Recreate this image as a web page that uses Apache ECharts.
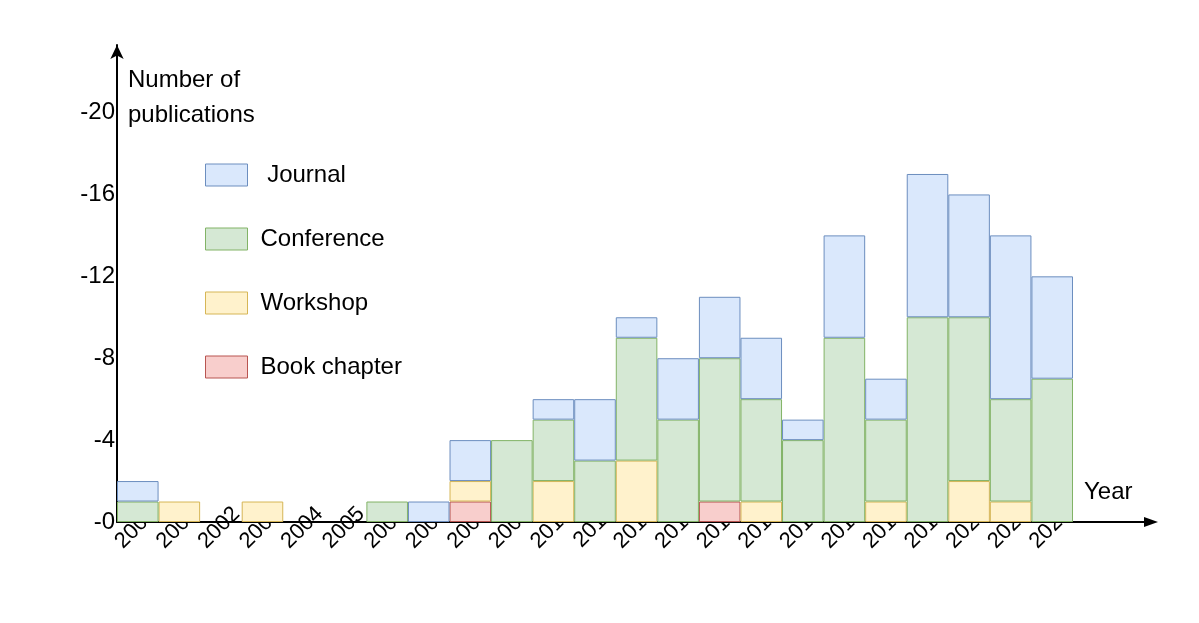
<!DOCTYPE html><html><head><meta charset="utf-8"><script src="https://cdn.jsdelivr.net/npm/echarts@6/dist/echarts.min.js"></script></head><body style="margin:0;background:#fff"><div id="c" style="width:1199px;height:623px"></div><script>
const years=['2000','2001','2002','2003','2004','2005','2006','2007','2008','2009','2010','2011','2012','2013','2014','2015','2016','2017','2018','2019','2020','2021','2022'];
const book=[0,0,0,0,0,0,0,0,1,0,0,0,0,0,1,0,0,0,0,0,0,0,0];
const workshop=[0,1,0,1,0,0,0,0,1,0,2,0,3,0,0,1,0,0,1,0,2,1,0];
const conference=[1,0,0,0,0,0,1,0,0,4,3,3,6,5,7,5,4,9,4,10,8,5,7];
const journal=[1,0,0,0,0,0,0,1,2,0,1,3,1,3,3,3,1,5,2,7,6,8,5];
const yTicks=[0,4,8,12,16,20];
const F='Liberation Sans, Arial, sans-serif';
function s(name,data,fill,stroke){return {name,type:'bar',stack:'a',data:data.map(v=>v===0?'-':v),barWidth:'100%',barCategoryGap:0,itemStyle:{color:fill,borderColor:stroke,borderWidth:1}};}
const ch=echarts.init(document.getElementById('c'));
ch.setOption({
 animation:false,
 grid:{left:117,right:126,top:45,bottom:101},
 legend:{orient:'vertical',left:200,top:158,itemWidth:42,itemHeight:22,itemGap:40,icon:'rect',textStyle:{fontSize:24,fontFamily:F,color:'#000',padding:[0,0,0,8]},
  data:[{name:' Journal',itemStyle:{borderColor:'#6c8ebf',borderWidth:1}},{name:'Conference',itemStyle:{borderColor:'#82b366',borderWidth:1}},{name:'Workshop',itemStyle:{borderColor:'#d6b656',borderWidth:1}},{name:'Book chapter',itemStyle:{borderColor:'#b85450',borderWidth:1}}]},
 xAxis:{type:'category',data:years,axisLine:{lineStyle:{color:'#000',width:2}},axisTick:{show:false},
  axisLabel:{rotate:45,fontSize:22,fontFamily:F,color:'#000',margin:4,interval:0,padding:[0,-22,0,0]}},
 yAxis:{type:'value',min:0,max:23.3,interval:4,splitLine:{show:false},
  axisLine:{show:true,symbol:['none','arrow'],symbolSize:[10,14],lineStyle:{color:'#000',width:2}},axisTick:{show:false},
  axisLabel:{showMaxLabel:false,fontSize:24,fontFamily:F,color:'#000',margin:2,formatter:v=>yTicks.includes(v)?'-'+v:''}},
 graphic:[
  {type:'line',shape:{x1:1073,y1:522,x2:1148,y2:522},style:{stroke:'#000',lineWidth:2}},
  {type:'polygon',shape:{points:[[1158,522],[1144,517],[1144,527]]},style:{fill:'#000'}},
  {type:'text',left:1084,top:480,style:{text:'Year',font:'24px '+F,fill:'#000'}},
  {type:'text',left:128,top:63,style:{text:'Number of\npublications',font:'24px '+F,fill:'#000',lineHeight:35}}
 ],
 series:[s('Book chapter',book,'#f8cecc','#b85450'),s('Workshop',workshop,'#fff2cc','#d6b656'),s('Conference',conference,'#d5e8d4','#82b366'),s(' Journal',journal,'#dae8fc','#6c8ebf')]
});
</script></body></html>
